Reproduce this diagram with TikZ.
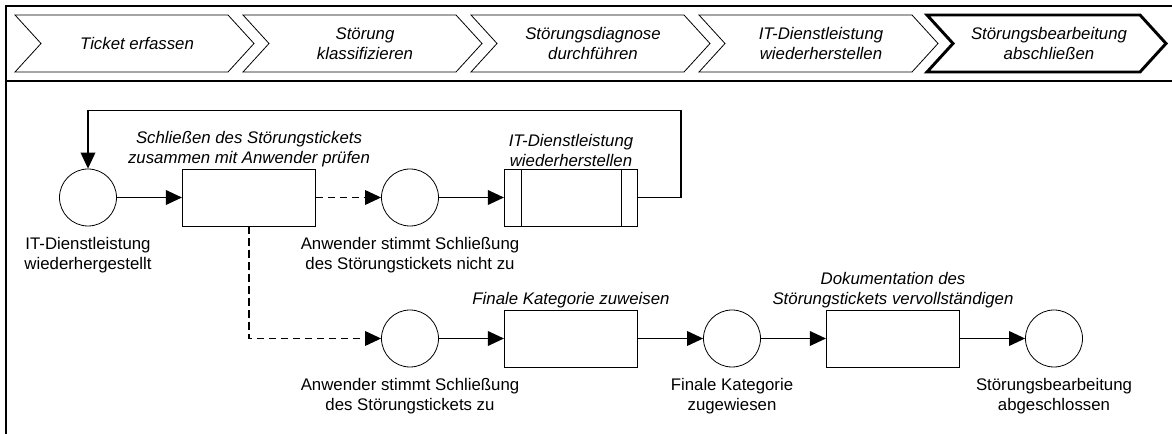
\documentclass[tikz,border=0pt]{standalone}
\usepackage{fontspec}
\setmainfont{Liberation Sans}
\usetikzlibrary{positioning,arrows.meta}

\newcommand\flowfont{\fontsize{12.6}{15}\selectfont}

\tikzset{
  phase/.style={draw,line width=0.6pt,line join=miter},
  phasetext/.style={font=\flowfont\itshape,align=center},
  event/.style={circle,draw,line width=0.6pt,minimum size=42.75pt,inner sep=0pt},
  func/.style={rectangle,draw,line width=0.6pt,minimum width=100pt,minimum height=42.75pt},
  funcname/.style={font=\flowfont\itshape,align=center,inner sep=1pt},
  eventname/.style={font=\flowfont,align=center,inner sep=1pt},
  flow/.style={-{Triangle[length=12pt,width=11pt]},line width=1pt},
  optional/.style={dash pattern=on 5.5pt off 3.5pt},
}

\begin{document}
\begin{tikzpicture}[x=0.75pt,y=-0.75pt,node distance=120.75pt,on grid,font=\flowfont]
  \useasboundingbox (0,0) rectangle (1172,434);

  % frame of the lane
  \draw[line width=1pt] (6,434) -- (6,6) -- (1172,6);
  \draw[line width=1pt] (6,81) -- (1172,81);

  % process phases
  \foreach \x/\txt in {15/{Ticket erfassen},243/{Störung\\klassifizieren},
      471/{Störungsdiagnose\\durchführen},699/{IT-Dienstleistung\\wiederherstellen}}{
    \draw[phase] (\x,15) -- ++(213,0) -- ++(26,28.5) -- ++(-26,28.5)
      -- ++(-213,0) -- ++(26,-28.5) -- cycle;
    \node[phasetext] (ph\x) at (\x+122,43.5) {\txt};
  }
  \draw[phase,line width=2.2pt] (927,15) -- ++(213,0) -- ++(26,28.5) -- ++(-26,28.5)
    -- ++(-213,0) -- ++(26,-28.5) -- cycle;
  \node[phasetext] (ph927) at (1049,43.5) {Störungsbearbeitung\\abschließen};

  % first row
  \node[event,label={[eventname,label distance=7pt]below:{IT-Dienstleistung\\wiederhergestellt}}]
    (start) at (88,197.5) {};
  \node[func,label={[funcname,label distance=0pt]above:{Schließen des Störungstickets\\zusammen mit Anwender prüfen}}]
    (check) [right=of start] {};
  \node[event,label={[eventname,label distance=7pt]below:{Anwender stimmt Schließung\\des Störungstickets nicht zu}}]
    (disagree) [right=of check] {};
  \node[func,label={[funcname,label distance=0pt]above:{IT-Dienstleistung\\wiederherstellen}}]
    (restore) [right=of disagree] {};
  \draw[line width=0.6pt] ([xshift=12.75pt]restore.north west) -- ([xshift=12.75pt]restore.south west);
  \draw[line width=0.6pt] ([xshift=-12.75pt]restore.north east) -- ([xshift=-12.75pt]restore.south east);
  \coordinate[above=65.25pt of start] (back);

  % second row
  \node[event,label={[eventname,label distance=7pt]below:{Anwender stimmt Schließung\\des Störungstickets zu}}]
    (agree) [below=105.75pt of disagree] {};
  \node[func,label={[funcname,label distance=0pt]above:{Finale Kategorie zuweisen}}]
    (assign) [right=of agree] {};
  \node[event,label={[eventname,label distance=7pt]below:{Finale Kategorie\\zugewiesen}}]
    (assigned) [right=of assign] {};
  \node[func,label={[funcname,label distance=0pt]above:{Dokumentation des\\Störungstickets vervollständigen}}]
    (document) [right=of assigned] {};
  \node[event,label={[eventname,label distance=7pt]below:{Störungsbearbeitung\\abgeschlossen}}]
    (closed) [right=of document] {};

  \draw[flow] (start) -- (check);
  \draw[flow,optional] (check) -- (disagree);
  \draw[flow] (disagree) -- (restore);
  \draw[flow] (restore.east) -- ++(43,0) |- (back) -- (start);
  \draw[flow,optional] (check.south) |- (agree);
  \draw[flow] (agree) -- (assign);
  \draw[flow] (assign) -- (assigned);
  \draw[flow] (assigned) -- (document);
  \draw[flow] (document) -- (closed);
\end{tikzpicture}
\end{document}
